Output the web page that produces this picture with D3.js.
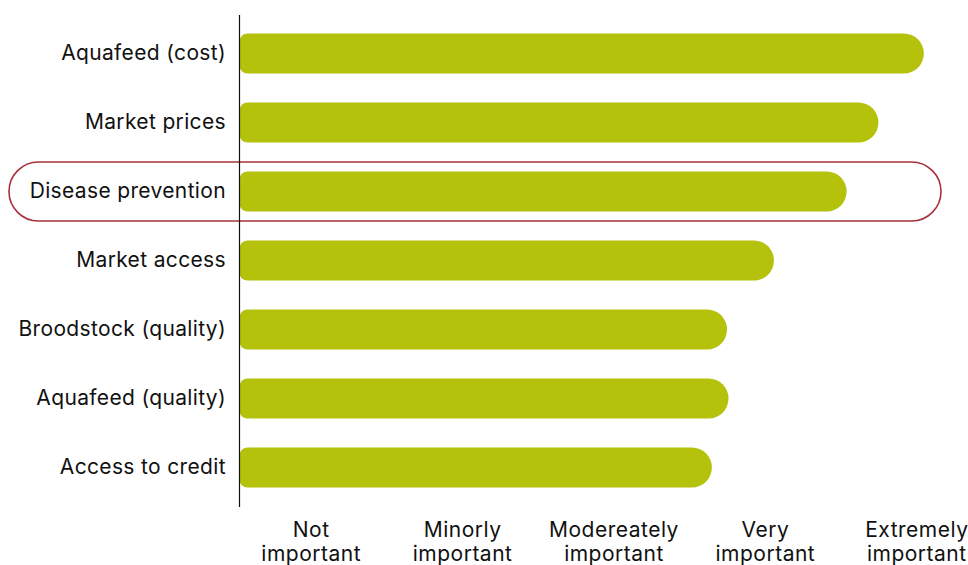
<!DOCTYPE html>
<html>
<head>
<meta charset="utf-8">
<script src="https://cdn.jsdelivr.net/npm/d3@7"></script>
<style>
  html, body { margin: 0; padding: 0; background: #ffffff; }
  svg { display: block; font-family: Inter, "Noto Sans", sans-serif; }
</style>
</head>
<body>
<svg id="chart" width="968" height="565"></svg>
<script>
// Factors ranked by mean importance score (0–5 scale, one unit per answer band)
const factors = [
  "Aquafeed (cost)",
  "Market prices",
  "Disease prevention",
  "Market access",
  "Broodstock (quality)",
  "Aquafeed (quality)",
  "Access to credit"
];
const scores = [4.52, 4.22, 4.01, 3.53, 3.22, 3.23, 3.12];
const levelTop = ["Not", "Minorly", "Modereately", "Very", "Extremely"];
const levelBottom = ["important", "important", "important", "important", "important"];
const highlighted = "Disease prevention";

const svg = d3.select("#chart");
const axisX = 239.5;

const x = d3.scaleLinear().domain([0, 5]).range([axisX, axisX + 5 * 151.4]);
const y = d3.scaleBand().domain(factors).range([19, 502]).paddingInner(0.42).paddingOuter(0.21);

const barColor = "#b4c20b";
const ringColor = "#a8303d";

// Highlight ring around one row
const hy = y(highlighted) + y.bandwidth() / 2;
const ringH = 59;
svg.append("rect")
  .attr("x", 9)
  .attr("y", hy - ringH / 2)
  .attr("width", 932)
  .attr("height", ringH)
  .attr("rx", ringH / 2)
  .attr("ry", ringH / 2)
  .attr("fill", "none")
  .attr("stroke", ringColor)
  .attr("stroke-width", 1.6);

// Bars: slight rounding at the axis end, full round cap at the value end
function barPath(x0, x1, y0, h) {
  const r = h / 2, rl = 8;
  const p = d3.path();
  p.moveTo(x0 + rl, y0);
  p.lineTo(x1 - r, y0);
  p.arc(x1 - r, y0 + r, r, -Math.PI / 2, Math.PI / 2);
  p.lineTo(x0 + rl, y0 + h);
  p.arcTo(x0, y0 + h, x0, y0 + h - rl, rl);
  p.lineTo(x0, y0 + rl);
  p.arcTo(x0, y0, x0 + rl, y0, rl);
  p.closePath();
  return p.toString();
}

svg.append("g").selectAll("path")
  .data(factors)
  .join("path")
  .attr("d", (d, i) => barPath(x(0), x(scores[i]), y(d), y.bandwidth()))
  .attr("fill", barColor);

// Vertical axis line
svg.append("line")
  .attr("x1", axisX).attr("x2", axisX)
  .attr("y1", 15).attr("y2", 507)
  .attr("stroke", "#111")
  .attr("stroke-width", 1.2);

// Category labels
svg.append("g").selectAll("text")
  .data(factors)
  .join("text")
  .attr("x", 226)
  .attr("y", d => y(d) + y.bandwidth() / 2 - 1)
  .attr("text-anchor", "end")
  .attr("dominant-baseline", "central")
  .attr("font-size", 21)
  .attr("font-weight", 400)
  .attr("letter-spacing", 0.35)
  .attr("fill", "#111")
  .text(d => d);

// Importance level labels, centred in each unit band
const lv = svg.append("g").selectAll("text")
  .data(levelTop)
  .join("text")
  .attr("x", (d, i) => x(i + 0.5) - 4)
  .attr("text-anchor", "middle")
  .attr("font-size", 21)
  .attr("font-weight", 400)
  .attr("letter-spacing", 0.5)
  .attr("fill", "#111");
lv.append("tspan").attr("x", (d, i) => x(i + 0.5) - 4).attr("y", 537).text(d => d);
lv.append("tspan").attr("x", (d, i) => x(i + 0.5) - 4).attr("y", 561).text((d, i) => levelBottom[i]);
</script>
</body>
</html>
